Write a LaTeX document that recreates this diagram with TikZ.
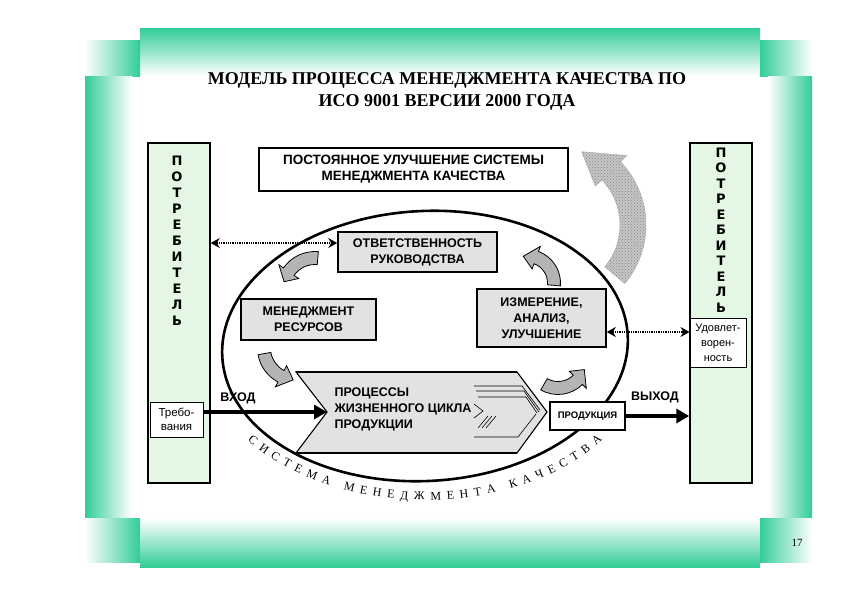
\documentclass[tikz,border=0pt]{standalone}
\usepackage{fontspec}
\setmainfont{Liberation Sans}
\newfontfamily\serifcyr{Liberation Serif}
\newfontfamily\heavyfont{DejaVu Sans}
\usetikzlibrary{calc}
\usetikzlibrary{arrows.meta}
\usetikzlibrary{decorations.text}
\usetikzlibrary{patterns}
\definecolor{frgreen}{RGB}{50,205,150}
\definecolor{boxgray}{RGB}{226,226,226}
\definecolor{consgreen}{RGB}{228,246,228}
\definecolor{arrgray}{RGB}{180,180,180}
\tikzset{
  consbox/.style={draw, line width=1.5pt, fill=consgreen, minimum width=62pt, minimum height=340pt},
  consletter/.style={font=\heavyfont\bfseries\fontsize{13}{13}\selectfont, inner sep=0pt},
  grbox/.style={draw, line width=1.6pt, fill=boxgray, align=center, font=\bfseries\fontsize{12.5}{16}\selectfont},
  smallbox/.style={draw, line width=1pt, fill=white, align=center, inner sep=1pt},
  dotarrow/.style={line width=1.3pt, densely dotted, {Stealth[length=9pt,width=10pt,inset=3pt]}-{Stealth[length=9pt,width=10pt,inset=3pt]}},
  bigarrow/.style={line width=3.5pt, -{Triangle[length=13pt,width=14pt]}},
  blockarrow/.style={draw, line width=0.8pt, fill=arrgray},
  bigblock/.style={draw=gray!70, preaction={fill=gray!45}, pattern=crosshatch dots, pattern color=gray!95},
}
% curved block arrow: center, mid radius, half width, head half width, start, end, tip angle
\newcommand{\bentarrow}[8][]{%
  \path[#1] ($(#2)+(#6:#3+#4)$) arc[start angle=#6, end angle=#7, radius=#3+#4]
    -- ($(#2)+(#7:#3+#5)$) -- ($(#2)+(#8:#3)$) -- ($(#2)+(#7:#3-#5)$)
    -- ($(#2)+(#7:#3-#4)$) arc[start angle=#7, end angle=#6, radius=#3-#4] -- cycle;}

\begin{document}
\begin{tikzpicture}[x=1pt, y=-1pt]
\useasboundingbox (0,0) rectangle (842,595);
% frame
\shade[top color=frgreen, bottom color=white] (140,28) rectangle (760,76);
\shade[left color=white, right color=frgreen] (85,40) rectangle (140,76);
\shade[left color=frgreen, right color=white] (85,76) rectangle (132,518);
\shade[left color=white, right color=frgreen] (85,518) rectangle (140,562);
\shade[top color=white, bottom color=frgreen] (140,518) rectangle (760,567);
\shade[left color=frgreen, right color=white] (760,40) rectangle (812,76);
\shade[left color=white, right color=frgreen] (768,76) rectangle (812,518);
\shade[left color=frgreen, right color=white] (760,518) rectangle (812,562);

\node[font=\serifcyr\bfseries\fontsize{18}{22}\selectfont, align=center] (title) at (447,91)
  {МОДЕЛЬ ПРОЦЕССА МЕНЕДЖМЕНТА КАЧЕСТВА ПО\\ИСО 9001 ВЕРСИИ 2000 ГОДА};
\node[font=\serifcyr\fontsize{11}{11}\selectfont] (pnum) at (797,543) {17};

% consumers
\node[consbox] (cons1) at (179,313) {};
\node[consbox] (cons2) at (721,313) {};
\foreach \ch [count=\i] in {П,О,Т,Р,Е,Б,И,Т,Е,Л,Ь} {
  \node[consletter] (lc\i) at (177,145+16*\i) {\ch};
  \node[consletter] (rc\i) at (721,137+15.5*\i) {\ch};
}
\node[smallbox, minimum width=53pt, minimum height=35pt, font=\fontsize{11.5}{14}\selectfont] (req) at (176.5,419.5) {Требо-\\вания};
\node[smallbox, minimum width=56pt, minimum height=49pt, font=\fontsize{11}{15}\selectfont] (sat) at (718,342.5) {Удовлет-\\ворен-\\ность};

\node[grbox, fill=white, minimum width=309pt, minimum height=43pt, font=\bfseries\fontsize{13.5}{16}\selectfont] (impr) at (413.5,169.5)
  {ПОСТОЯННОЕ УЛУЧШЕНИЕ СИСТЕМЫ\\МЕНЕДЖМЕНТА КАЧЕСТВА};

% big improvement arrow
\bentarrow[bigblock]{555,225}{78}{13}{22}{40}{-44}{-70}

% system ellipse
\coordinate (ec) at (425,346);
\draw[line width=2.6pt, rotate around={3:(ec)}] (ec) ellipse[x radius=203, y radius=135];
\coordinate (tc) at (425,350);
\path[decorate, decoration={text along path,
    text={|\serifcyr\fontsize{12}{12}\selectfont|СИСТЕМА МЕНЕДЖМЕНТА КАЧЕСТВА},
    text align={fit to path}}]
  ([shift={(143:222 and 150)}]tc) arc[start angle=143, end angle=37, x radius=222, y radius=150];

\node[grbox, minimum width=159pt, minimum height=40pt] (resp) at (417.5,252) {ОТВЕТСТВЕННОСТЬ\\РУКОВОДСТВА};
\node[grbox, minimum width=135pt, minimum height=41pt] (res) at (308.5,319.5) {МЕНЕДЖМЕНТ\\РЕСУРСОВ};
\node[grbox, minimum width=129pt, minimum height=58pt] (meas) at (541.5,318) {ИЗМЕРЕНИЕ,\\АНАЛИЗ,\\УЛУЧШЕНИЕ};

% product realization
\coordinate (notch) at (327,412);
\draw[line width=1.1pt, fill=boxgray] (296,372) -- (517,372) -- (547,412) -- (517,453) -- (296,453) -- (notch) -- cycle;
\draw[line width=2pt] (296,372) -- (517,372);
\draw[line width=2pt] (296,453) -- (517,453);
\draw[line width=0.6pt] (474,386) -- (522,386) -- (540,410);
\draw[line width=0.6pt] (476,391) -- (524,391) -- (539,412);
\draw[line width=0.6pt] (478,397) -- (526,397) -- (537,413);
\draw[line width=0.6pt] (474,437) -- (518,437) -- (536,414);
\draw[line width=0.6pt] (474,404) -- (483,411) -- (474,418);
\foreach \k in {0,1,2}
  \draw[line width=0.6pt] (478+4*\k,428) -- (488+4*\k,416);
\node[anchor=west, align=left, font=\bfseries\fontsize{12.5}{16}\selectfont] (proctext) at (331,409)
  {ПРОЦЕССЫ\\ЖИЗНЕННОГО ЦИКЛА\\ПРОДУКЦИИ};
\node[smallbox, line width=1.3pt, minimum width=75pt, minimum height=28pt, font=\bfseries\fontsize{9.5}{10}\selectfont] (prod) at (587.5,416) {ПРОДУКЦИЯ};

% input / output
\draw[bigarrow] (req.east |- notch) -- (notch);
\draw[bigarrow] (prod.east) -- (prod.east -| cons2.west);
\node[font=\bfseries\fontsize{12.5}{12.5}\selectfont] (inlbl) at (238,398) {ВХОД};
\node[font=\bfseries\fontsize{12.5}{12.5}\selectfont] (outlbl) at (655,397) {ВЫХОД};

% information flows
\coordinate (dl) at ($(resp.west)+(0,-9)$);
\draw[dotarrow] (cons1.east |- dl) -- (dl);
\coordinate (dr) at ($(meas.east)+(0,14)$);
\draw[dotarrow] (dr) -- (sat.west |- dr);

% cycle arrows
\bentarrow[blockarrow]{315,290}{32}{6.5}{12}{-85}{-145}{-165}
\bentarrow[blockarrow]{296,348}{32}{6.5}{12}{170}{118}{95}
\bentarrow[blockarrow]{558,360}{28}{6.5}{12}{120}{45}{20}
\bentarrow[blockarrow]{527,283}{27}{6.5}{12}{5}{-70}{-98}
\end{tikzpicture}
\end{document}
